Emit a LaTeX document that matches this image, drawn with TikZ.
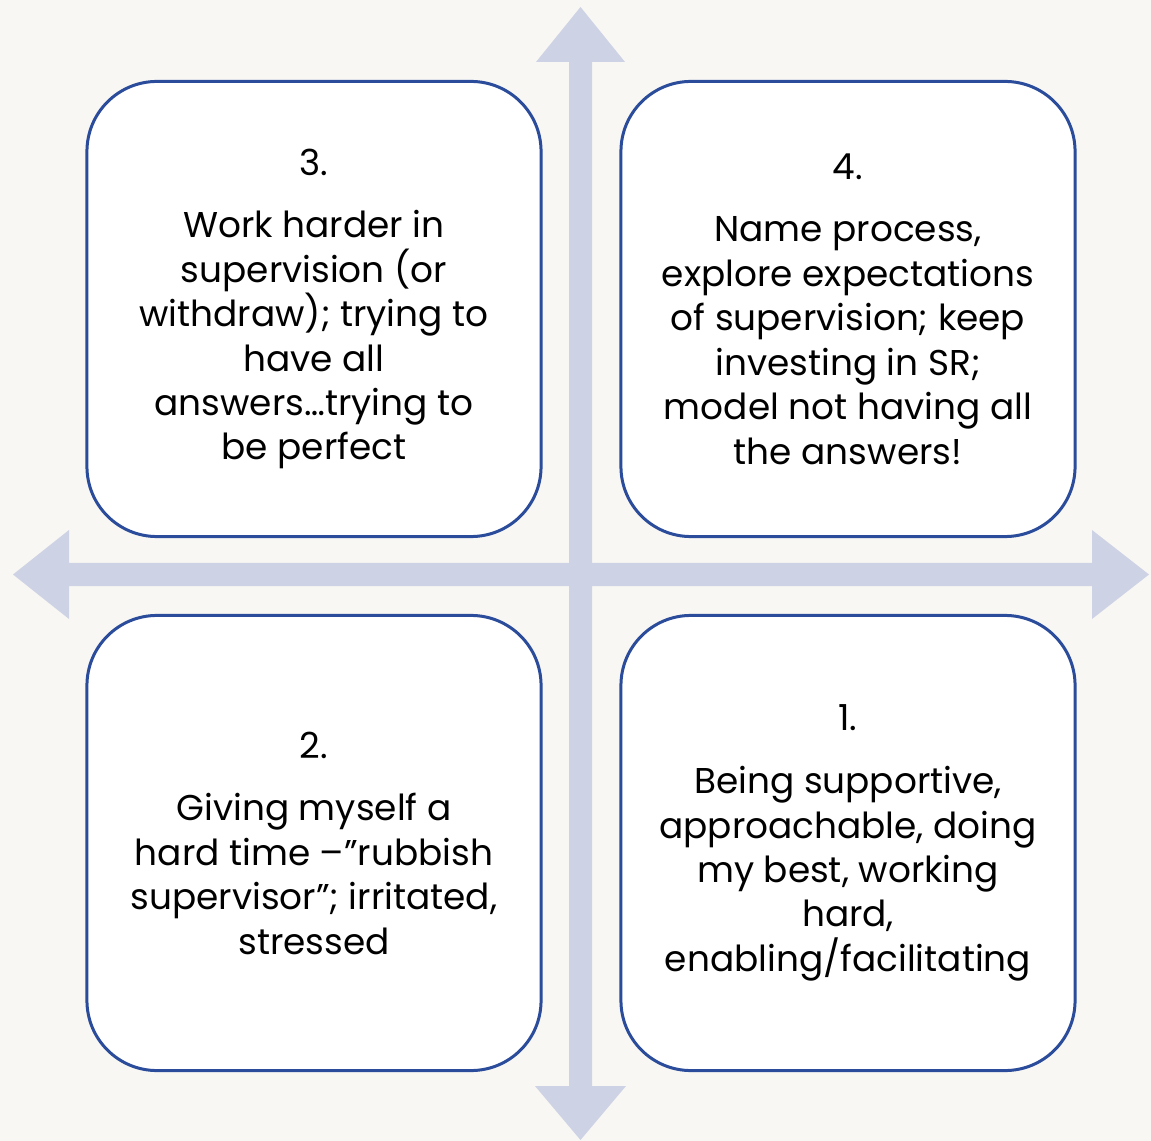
\documentclass[tikz,border=0pt]{standalone}
\usepackage{fontspec}
\setmainfont{Poppins}
\definecolor{boxblue}{HTML}{2B4C9B}
\definecolor{axisgrey}{HTML}{CDD2E4}
\definecolor{paper}{HTML}{F8F7F3}

\begin{document}
\begin{tikzpicture}[x=0.025cm, y=-0.025cm,
    quad/.style={draw=boxblue, line width=0.075cm, fill=white,
      rounded corners=1.75cm, minimum width=11.35cm, minimum height=11.375cm,
      align=center, font=\fontsize{25.5}{31.6}\selectfont},
    axis/.style={fill=axisgrey}]
  \fill[paper] (0,0) rectangle (1151,1141);
  \useasboundingbox (0,0) rectangle (1151,1141);

  % cross of two double arrows
  \fill[axis] (569,1086) -- (569,62) -- (536,62) -- (580.5,7) -- (625,62)
    -- (592,62) -- (592,1086) -- (626,1086) -- (580.5,1140) -- (535,1086) -- cycle;
  \fill[axis] (69,563) -- (69,530) -- (13,574.5) -- (69,619) -- (69,586)
    -- (1092,586) -- (1092,619) -- (1149,574.5) -- (1092,530) -- (1092,563) -- cycle;

  % the four quadrants
  \node[quad] at (314,309) (q3) {3.\\[13pt]
    Work harder in\\ supervision (or\\ withdraw); trying to\\
    have all\\ answers…trying to\\ be perfect};
  \node[quad] at (848,309) (q4) {4.\\[13pt]
    Name process,\\ explore expectations\\ of supervision; keep\\
    investing in SR;\\ model not having all\\ the answers!};
  \node[quad] at (314,843) (q2) {2.\\[13pt]
    Giving myself a\\ hard time –”rubbish\\ supervisor”; irritated,\\ stressed};
  \node[quad] at (848,843) (q1) {1.\\[13pt]
    Being supportive,\\ approachable, doing\\ my best, working\\ hard,\\
    enabling/facilitating};
\end{tikzpicture}
\end{document}
